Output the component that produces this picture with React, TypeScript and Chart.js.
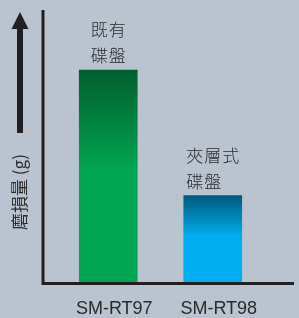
import { useEffect, useRef } from "react";
import { Chart, registerables } from "chart.js";

Chart.register(...registerables);

// ---- data ----
const categories = ["SM-RT97", "SM-RT98"];
const wearValues = [7.8, 3.2];
const barAnnotations = [
  ["既有", "碟盤"],
  ["夾層式", "碟盤"],
];
const yAxisTitle = "磨損量 (g)";

// ---- styles ----
const INK = "#231f20";
const TEXT = "#2a2a2a";
const BG = "#bac4d0";
const barTopColors = ["#005f2e", "#005a7c"];
const barBottomColors = ["#00a651", "#00aeef"];
const CJK = '"Noto Sans CJK TC", "Noto Sans CJK SC", sans-serif';

const AXIS_LEFT_GAP = 13; // frame line sits left of the first category band
const AXIS_RIGHT_EXT = 29; // baseline extends past the last category band

const decorPlugin = {
  id: "decor",
  afterDatasetsDraw(chart: any) {
    const ctx = chart.ctx as CanvasRenderingContext2D;
    const area = chart.chartArea;
    const yScale = chart.scales.y;
    const base = yScale.getPixelForValue(0);
    const axisX = area.left - AXIS_LEFT_GAP;
    ctx.save();
    ctx.strokeStyle = INK;
    ctx.lineWidth = 3;
    ctx.beginPath();
    ctx.moveTo(axisX, area.top);
    ctx.lineTo(axisX, base + 1.5);
    ctx.moveTo(axisX - 1.5, base + 0.5);
    ctx.lineTo(area.right + AXIS_RIGHT_EXT, base + 0.5);
    ctx.stroke();

    // arrow on the far left
    const ax = axisX - 23;
    ctx.fillStyle = INK;
    ctx.fillRect(ax - 3, area.top + 18, 6, 105);
    ctx.beginPath();
    ctx.moveTo(ax - 8.5, area.top + 19);
    ctx.lineTo(ax + 8.5, area.top + 19);
    ctx.lineTo(ax, area.top + 2);
    ctx.closePath();
    ctx.fill();
    // rotated axis title
    ctx.translate(ax, base - 91);
    ctx.rotate(-Math.PI / 2);
    ctx.font = `17px ${CJK}`;
    ctx.fillStyle = TEXT;
    ctx.textAlign = "center";
    ctx.textBaseline = "middle";
    ctx.fillText(yAxisTitle, 0, 0);
    ctx.restore();

    // annotations above bars
    const meta = chart.getDatasetMeta(0);
    ctx.save();
    ctx.font = `300 17px ${CJK}`;
    ctx.fillStyle = TEXT;
    ctx.textBaseline = "middle";
    ctx.textAlign = "left";
    const adv = 18;
    meta.data.forEach((el: any, i: number) => {
      const lines = barAnnotations[i];
      const maxLen = Math.max(...lines.map((l) => l.length));
      const blockW = maxLen * adv - 1;
      const startX = el.x - blockW / 2;
      lines.forEach((line, k) => {
        const cy = el.y - 14.5 - 26 * (lines.length - 1 - k);
        Array.from(line).forEach((ch, j) => {
          ctx.fillText(ch, startX + j * adv, cy);
        });
      });
    });
    ctx.restore();
  },
};

function makeGradient(chart: any, index: number) {
  const yScale = chart.scales?.y;
  if (!yScale || !chart.chartArea) return barBottomColors[index];
  const top = yScale.getPixelForValue(wearValues[index]);
  const bottom = yScale.getPixelForValue(0);
  if (!Number.isFinite(top) || !Number.isFinite(bottom) || top === bottom) {
    return barBottomColors[index];
  }
  const g = chart.ctx.createLinearGradient(0, top, 0, bottom);
  g.addColorStop(0, barTopColors[index]);
  g.addColorStop(0.47, barBottomColors[index]);
  g.addColorStop(1, barBottomColors[index]);
  return g;
}

export default function App() {
  const ref = useRef<HTMLCanvasElement>(null);
  useEffect(() => {
    document.body.style.margin = "0";
    const chart = new Chart(ref.current!, {
      type: "bar",
      data: {
        labels: categories,
        datasets: [
          {
            data: wearValues,
            backgroundColor: (c: any) => makeGradient(c.chart, c.dataIndex),
            borderWidth: 0,
            barThickness: 58,
          },
        ],
      },
      options: {
        animation: false,
        responsive: false,
        layout: { padding: { top: 10, left: 56, right: 34, bottom: 0 } },
        plugins: { legend: { display: false }, tooltip: { enabled: false } },
        scales: {
          x: {
            grid: { display: false, drawTicks: false },
            border: { display: false },
            afterFit: (axis: any) => {
              axis.height = 35;
            },
            ticks: {
              autoSkip: false,
              maxRotation: 0,
              padding: 15,
              labelOffset: 6,
              color: TEXT,
              font: { family: '"Liberation Sans", Arial, sans-serif', size: 18 },
            },
          },
          y: {
            display: false,
            min: 0,
            max: 10,
          },
        },
      },
      plugins: [decorPlugin],
    });
    return () => chart.destroy();
  }, []);
  return (
    <div style={{ position: "fixed", left: 0, top: 0, width: 299, height: 318, background: BG }}>
      <canvas ref={ref} width={299} height={318} style={{ display: "block" }} />
    </div>
  );
}
